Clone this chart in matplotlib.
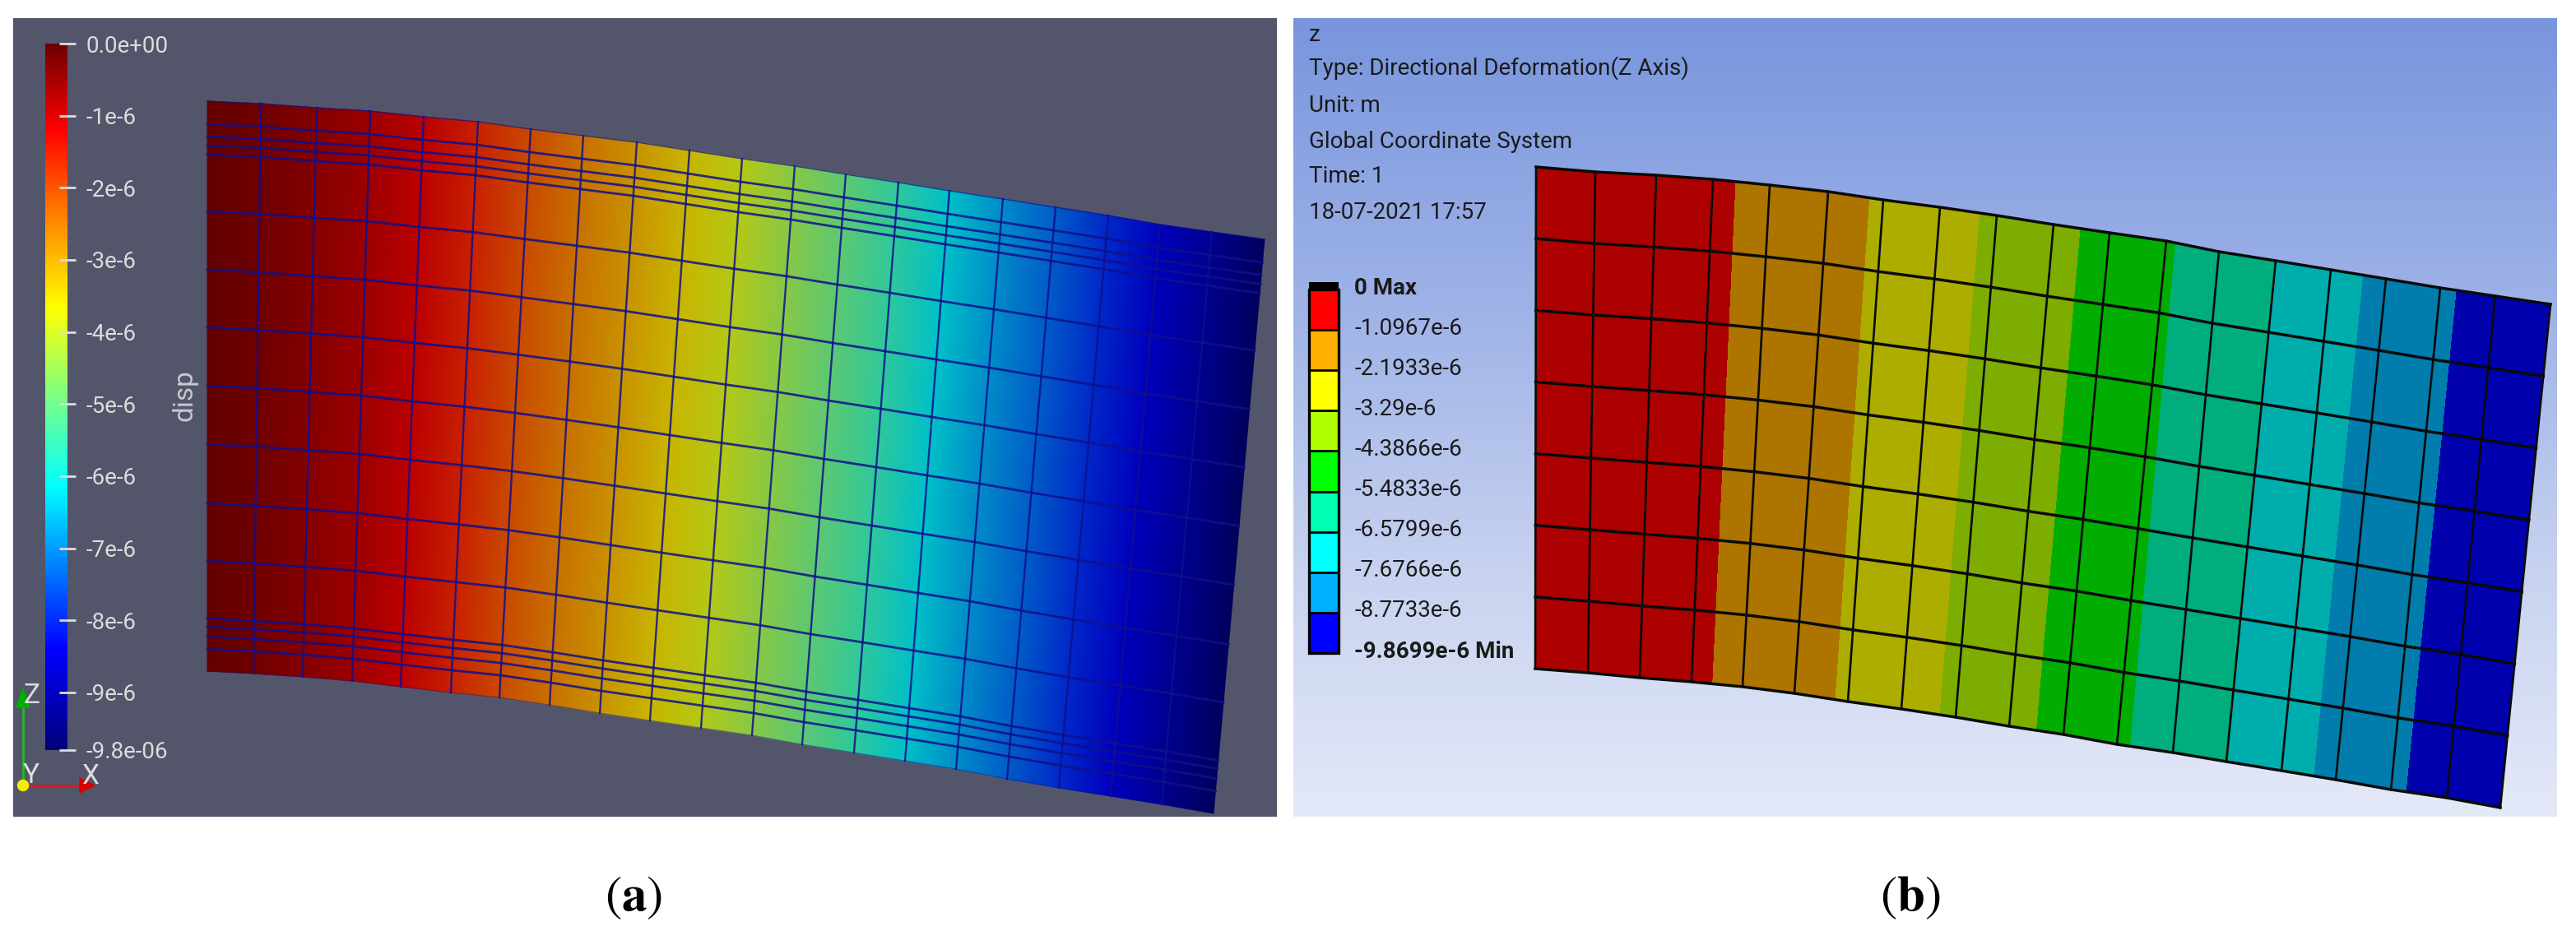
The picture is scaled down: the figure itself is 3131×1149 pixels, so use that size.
import numpy as np
import matplotlib
matplotlib.use("Agg")
import matplotlib.pyplot as plt
from matplotlib import cm
from matplotlib.colors import LinearSegmentedColormap, Normalize, BoundaryNorm
from matplotlib.patches import Polygon, Rectangle, Circle
from matplotlib.transforms import ScaledTranslation

W, H = 3131, 1149
NARROW = ['Roboto', 'Liberation Sans', 'DejaVu Sans']

# panel a: mesh
a_top_x = [252, 317, 385, 450, 515, 581, 645, 709, 774, 838, 902, 966, 1028, 1092, 1154, 1219, 1283, 1347, 1410, 1473, 1537]
a_top_y = [123, 126, 131, 135, 142, 148, 157, 165, 173, 183, 193, 202, 212, 222, 232, 242, 252, 262, 273, 282, 291]
a_bot_x = [252, 308, 368, 428, 487, 548, 607, 668, 729, 790, 852, 914, 975, 1038, 1100, 1162, 1224, 1287, 1350, 1412, 1475]
a_bot_y = [816, 819, 823, 828, 835, 842, 848, 857, 867, 876, 885, 894, 905, 915, 925, 935, 947, 958, 968, 978, 989]
a_row_offset = [0, 28, 43, 54, 65, 134, 205, 275, 346, 417, 489, 559, 629, 639, 651, 666, 693]
a_disp = [0, -0.15, -0.4, -0.68, -1.05, -1.6, -2.1, -2.55, -3.0, -3.45, -3.95, -4.5, -5.05, -5.6, -6.28, -6.85, -7.4, -8.0, -8.6, -9.2, -9.87]

a_stops = [-9.87, -8.47, -7.3, -6.19, -4.9, -3.68, -2.4, -1.2, 0]
a_bar_colors = ['#00007a', '#0000ff', '#0080ff', '#00ffff', '#80ff80', '#ffff00', '#ff8000', '#ff0000', '#6b0000']
a_face_colors = ['#00005c', '#0000c8', '#0064c8', '#00c8c8', '#68c868', '#c8c800', '#c86400', '#c80000', '#640000']
a_ticks = [0, -1, -2, -3, -4, -5, -6, -7, -8, -9, -9.8]
a_tick_labels = ['0.0e+00', '-1e-6', '-2e-6', '-3e-6', '-4e-6', '-5e-6', '-6e-6', '-7e-6', '-8e-6', '-9e-6', '-9.8e-06']

# panel b: mesh and nodal values
b_top_x = [1867, 1939, 2013, 2082, 2151, 2222, 2289, 2358, 2427, 2496, 2564, 2633, 2697, 2766, 2833, 2900, 2966, 3033, 3100]
b_top_y = [203, 209, 213, 218, 225, 233, 243, 252, 262, 273, 283, 293, 306, 317, 328, 339, 350, 360, 370]
b_bot_x = [1866, 1930, 1993, 2056, 2118, 2181, 2246, 2311, 2377, 2442, 2508, 2573, 2641, 2706, 2773, 2839, 2906, 2974, 3039]
b_bot_y = [813, 818, 824, 829, 835, 843, 853, 862, 872, 883, 893, 905, 915, 926, 937, 948, 960, 970, 982]
b_rows = 7
b_disp_top = [0, -0.32, -0.64, -0.94, -1.34, -1.83, -2.32, -2.89, -3.47, -4.09, -4.72, -5.39, -5.97, -6.60, -7.29, -7.96, -8.59, -9.23, -9.8699]
b_disp_bot = [0, -0.318, -0.631, -0.943, -1.328, -1.813, -2.317, -2.883, -3.468, -4.077, -4.707, -5.34, -5.97, -6.56, -7.28, -7.956, -8.60, -9.25, -9.8699]

b_levels = [0, -1.0967, -2.1933, -3.29, -4.3866, -5.4833, -6.5799, -7.6766, -8.7733, -9.8699]
b_labels = ['0 Max', '-1.0967e-6', '-2.1933e-6', '-3.29e-6', '-4.3866e-6', '-5.4833e-6', '-6.5799e-6', '-7.6766e-6', '-8.7733e-6', '-9.8699e-6 Min']
b_legend_colors = ['#ff0000', '#ffb000', '#ffff00', '#b0ff00', '#00ff00', '#00ffb0', '#00ffff', '#00b0ff', '#0000ff']
b_face_colors = ['#ad0000', '#ad7400', '#adad00', '#7dad00', '#00ad00', '#00ad7d', '#00adad', '#007dad', '#0000ad']
b_header = ['z', 'Type: Directional Deformation(Z Axis)', 'Unit: m', 'Global Coordinate System', 'Time: 1', '18-07-2021 17:57']
b_header_y = [42, 83, 128, 172, 215, 258]


def mesh_grid(top_x, top_y, bot_x, bot_y, frac):
    frac = np.asarray(frac)[:, None]
    X = np.asarray(top_x) * (1 - frac) + np.asarray(bot_x) * frac
    Y = np.asarray(top_y) * (1 - frac) + np.asarray(bot_y) * frac
    return X, Y


def stop_cmap(stops, colors):
    stops = np.asarray(stops, float)
    pos = (stops - stops[0]) / (stops[-1] - stops[0])
    return LinearSegmentedColormap.from_list('c', list(zip(pos, colors)), N=512)


fig = plt.figure(figsize=(W / 100, H / 100), dpi=100, facecolor='white')
ax = fig.add_axes([0, 0, 1, 1])

# ---- panel a ----
ax.add_patch(Rectangle((16, 22), 1536, 971, color='#53566b', lw=0, zorder=0))

frac_a = np.asarray(a_row_offset) / a_row_offset[-1]
Xa, Ya = mesh_grid(a_top_x, a_top_y, a_bot_x, a_bot_y, frac_a)
Za = np.tile(a_disp, (len(frac_a), 1))
face_cmap = stop_cmap(a_stops, a_face_colors)
ax.pcolormesh(Xa, Ya, Za, shading='gouraud', cmap=face_cmap, vmin=a_stops[0], vmax=0, zorder=1)
for i in range(1, len(frac_a) - 1):
    ax.plot(Xa[i], Ya[i], color='#10108a', lw=2.0, alpha=0.85, zorder=2)
for j in range(1, Xa.shape[1] - 1):
    ax.plot(Xa[:, j], Ya[:, j], color='#10108a', lw=1.7, alpha=0.85, zorder=2)
ax.plot(Xa[0], Ya[0], color='#10108a', lw=1.0, alpha=0.7, zorder=2)
ax.plot(Xa[-1], Ya[-1], color='#10108a', lw=0.7, alpha=0.5, zorder=2)

cax = fig.add_axes([55 / W, 1 - 912 / H, 27 / W, (912 - 53) / H])
bar_cmap = stop_cmap(a_stops, a_bar_colors)
cbar = fig.colorbar(cm.ScalarMappable(Normalize(-9.8, 0), bar_cmap), cax=cax, ticks=a_ticks)
cbar.outline.set_visible(False)
cbar.minorticks_off()
cbar.set_ticklabels(a_tick_labels)
cax.tick_params(axis='y', direction='inout', length=14.4, width=2, color='#dcdcdc', labelcolor='#dcdcdc',
                pad=9, labelsize=20)
for lab in cax.get_yticklabels():
    lab.set_family(NARROW)

ax.text(224, 481, 'disp', rotation=90, ha='center', va='center', color='#c8c8d0', fontsize=24, family=NARROW)

# orientation triad
ax.plot([28, 28], [955, 860], color='#22bb22', lw=2, zorder=3)
ax.add_patch(Polygon([[28, 837], [20, 860], [36, 860]], color='#00b000', zorder=3))
ax.plot([28, 97], [955, 955], color='#cc2222', lw=2, zorder=3)
ax.add_patch(Polygon([[115, 955], [97, 946], [97, 964]], color='#d80000', zorder=3))
ax.add_patch(Circle((28, 955), 6.5, color='#f0f000', zorder=3))
ax.text(39, 846, 'Z', color='#dcdcdc', fontsize=24, ha='center', va='center', family=NARROW)
ax.text(38, 943, 'Y', color='#dcdcdc', fontsize=24, ha='center', va='center', family=NARROW)
ax.text(109, 944, 'X', color='#dcdcdc', fontsize=24, ha='center', va='center', family=NARROW)

# ---- panel b ----
bg_cmap = LinearSegmentedColormap.from_list('bg', [(0, '#7895dd'), (0.4, '#a3b6e8'), (0.7, '#c8d3f0'), (1, '#e4e9f8')])
ax.imshow(np.linspace(0, 1, 256)[:, None], extent=(1572, 3108, 993, 22), cmap=bg_cmap, aspect='auto', zorder=0)

frac_b = np.linspace(0, 1, b_rows + 1)
Xb, Yb = mesh_grid(b_top_x, b_top_y, b_bot_x, b_bot_y, frac_b)
top = np.asarray(b_disp_top)
bot = np.asarray(b_disp_bot)
Zb = top * (1 - frac_b[:, None]) + bot * frac_b[:, None]
ax.contourf(Xb, Yb, Zb, levels=b_levels[::-1], colors=b_face_colors[::-1], zorder=1)
for i in range(len(frac_b)):
    ax.plot(Xb[i], Yb[i], color='#0a0a0a', lw=2.5, zorder=2)
for j in range(Xb.shape[1]):
    ax.plot(Xb[:, j], Yb[:, j], color='#0a0a0a', lw=1.9, zorder=2)

for txt, yy in zip(b_header, b_header_y):
    ax.text(1591, yy, txt, color='#1a1a1a', fontsize=20, ha='left', va='center', family=NARROW)

ax.add_patch(Rectangle((1591, 343), 36, 9, color='black', lw=0, zorder=2))
lax = fig.add_axes([1591 / W, 1 - 794 / H, 36 / W, (794 - 352) / H])
bnorm = BoundaryNorm(b_levels[::-1], 9)
lcmap = LinearSegmentedColormap.from_list('legend', b_legend_colors[::-1], N=9)
lbar = fig.colorbar(cm.ScalarMappable(bnorm, lcmap), cax=lax, spacing='uniform', drawedges=True, ticks=b_levels[::-1])
lbar.outline.set_edgecolor('black')
lbar.outline.set_linewidth(2.4)
lbar.dividers.set_color('black')
lbar.dividers.set_linewidth(2)
lbar.set_ticklabels(b_labels[::-1])
lax.tick_params(axis='y', length=0, pad=14, labelsize=20, labelcolor='#1a1a1a')
shift = ScaledTranslation(0, 5 / 100, fig.dpi_scale_trans)
for lab in lax.get_yticklabels():
    lab.set_family(NARROW)
    lab.set_transform(lab.get_transform() + shift)
    if lab.get_text().endswith(('Max', 'Min')):
        lab.set_fontweight('bold')

# captions
plt.rcParams['mathtext.fontset'] = 'stix'
ax.text(770, 1092, r'($\mathbf{a}$)', fontsize=44, ha='center', va='center', family='STIXGeneral', color='black')
ax.text(2322, 1092, r'($\mathbf{b}$)', fontsize=44, ha='center', va='center', family='STIXGeneral', color='black')

ax.set_xlim(0, W)
ax.set_ylim(H, 0)
ax.axis('off')

fig.savefig('out.png', dpi=100)
